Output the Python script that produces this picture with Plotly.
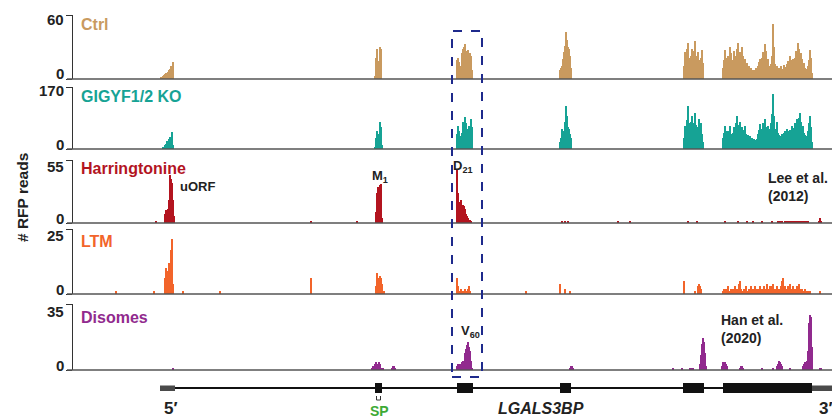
import plotly.graph_objects as go

# page body has an 8px margin; figure is sized/offset to compensate
OFF = 8
W, H = 840 - OFF, 420 - OFF

# ---------------- data (positions along transcript, read counts) ----------------
ctrl_segments = [
    (161, [1, 2, 3, 4, 5, 6, 5, 7, 8, 9, 12, 10, 16]),
    (375, [3, 20, 28, 10, 17, 30, 28]),
    (457, [18, 20, 16, 12, 10, 24, 28, 30, 33, 26, 22, 27, 20, 24, 22, 8]),
    (560, [8, 10, 12, 19, 25, 31, 44, 37, 30, 28, 22, 10]),
    (684, [12, 25, 18, 28, 34, 20, 14, 22, 28, 18, 26, 36, 22, 15, 25, 18, 14, 20, 27, 15]),
    (723, [10, 18, 27, 20, 14, 22, 16, 30, 24, 12, 18, 26, 15, 22, 28, 34, 20, 25, 18, 30,
           22, 14, 19, 12, 15, 9, 12, 7, 10, 6, 8, 5, 8, 10, 7, 12, 16, 19, 14, 20,
           25, 18, 33, 26, 15, 19, 12, 9, 14, 22, 52, 30, 14, 10, 12, 8, 10, 9, 12, 7,
           9, 13, 11, 8, 14, 17, 12, 22, 15, 18, 19, 12, 20, 26, 22, 34, 28, 18, 24, 19,
           12, 15, 10, 7, 9, 12, 18, 27, 20, 6]),
]

gigyf_segments = [
    (163, [4, 6, 10, 15, 22, 18, 28, 32, 20, 46, 12]),
    (375, [5, 30, 50, 20, 40, 74, 60, 10]),
    (457, [40, 64, 50, 35, 27, 45, 73, 60, 87, 70, 55, 48, 64, 50, 82, 60]),
    (560, [18, 30, 55, 46, 50, 73, 119, 91, 60, 55, 40, 30]),
    (684, [30, 64, 45, 80, 119, 70, 50, 75, 91, 60, 72, 100, 65, 45, 60, 82, 55, 70, 40, 20]),
    (723, [30, 45, 64, 40, 50, 35, 48, 64, 42, 30, 45, 60, 40, 70, 91, 65, 50, 73, 55, 60,
           45, 52, 64, 40, 30, 38, 28, 36, 25, 30, 22, 28, 20, 25, 27, 40, 52, 68, 45, 55,
           70, 50, 82, 60, 45, 64, 40, 55, 70, 95, 150, 90, 55, 48, 73, 45, 38, 36, 30, 40,
           35, 45, 50, 42, 55, 48, 40, 52, 45, 64, 50, 58, 70, 60, 82, 70, 85, 100, 75, 55,
           64, 45, 38, 30, 36, 50, 70, 91, 60, 20]),
]

harr_segments = [
    (156, [1]),
    (165, [8, 11, 10, 12, 20, 42, 38, 35, 20, 6]),
    (311, [2]),
    (357, [1]),
    (376, [10, 26, 31, 28, 33, 34, 4]),
    (457, [47, 26, 13, 18, 20, 12, 16, 15, 12, 8, 6, 4, 3, 3, 2]),
    (562, [1, 0, 0, 2, 0, 0, 1]),
    (618, [1]), (630, [1]), (688, [1]), (697, [2]),
    (725, [1, 0, 0, 0, 0, 0, 0, 0, 0, 0, 0, 0, 0, 1, 0, 0, 0, 0, 0, 0,
           0, 0, 1, 0, 0, 0, 0, 0, 1, 0, 0, 0, 0, 0, 0, 0, 0, 1, 0, 0,
           0, 0, 0, 0, 0, 0, 0, 1, 0, 0, 0, 0, 0, 1, 0, 2, 0, 1, 0, 0,
           1, 0, 2, 1, 0, 1, 0, 2, 1, 1, 0, 1, 1, 0, 1, 2, 1, 0, 1, 1,
           0, 1, 0, 1]),
    (819, [2, 4, 1]),
]

ltm_segments = [
    (116, [1]), (154, [1]), (183, [1]), (220, [1]),
    (165, [6, 10, 9, 9, 12, 10, 17, 21, 4]),
    (311, [6]),
    (376, [3, 8, 6, 5, 7, 6, 4, 1, 1]),
    (457, [6, 3, 1, 1, 2, 1, 1, 1, 2, 1, 1, 2, 3, 1]),
    (526, [1]),
    (560, [4, 0, 0, 0, 0, 2, 0, 0, 0, 0, 1]),
    (684, [5, 0, 0, 0, 0, 0, 0, 0, 0, 0, 0, 1, 0, 0, 3, 4, 3, 2]),
    (723, [1, 2, 0, 2, 1, 3, 1, 0, 2, 1, 2, 1, 3, 2, 1, 2, 4, 5, 2, 1,
           0, 2, 1, 3, 0, 1, 2, 1, 3, 2, 1, 2, 3, 1, 2, 2, 1, 3, 2, 1,
           2, 3, 1, 2, 4, 2, 1, 3, 2, 3, 4, 2, 1, 2, 3, 2, 1, 2, 3, 5,
           6, 2, 3, 2, 1, 3, 2, 4, 2, 1, 3, 2, 1, 2, 3, 2, 4, 2, 1, 2,
           1, 0, 2, 1, 0, 1, 0, 1, 0, 0]),
    (820, [1]),
]

disome_segments = [
    (173, [1]),
    (372, [1, 2, 2, 3, 4, 3, 2, 4, 3, 1, 1, 1]),
    (392, [1, 2, 2, 1]),
    (457, [2, 3, 2, 3, 2, 4, 5, 4, 9, 11, 13, 15, 12, 10, 5, 1]),
    (570, [1, 2, 2, 1]),
    (673, [1]), (682, [1]),
    (690, [1, 1, 1, 1]),
    (700, [3, 8, 14, 17, 15, 9, 2]),
    (722, [2, 4, 3, 4, 3, 2]),
    (740, [1, 2, 2, 1]),
    (762, [1]), (773, [1]),
    (777, [2, 3, 5, 4, 3, 2]),
    (790, [1]),
    (803, [2, 3, 4, 3, 5, 10, 25, 29, 28, 12]),
    (820, [1, 1]),
]

track_names = ["Ctrl", "GIGYF1/2 KO", "Harringtonine", "LTM", "Disomes"]
track_maxima = [60, 170, 55, 25, 35]
track_colors = ["#C99A5F", "#16A395", "#B3141F", "#F2642A", "#912A8E"]
label_colors = ["#C99A5F", "#16A395", "#B3141F", "#F2642A", "#912A8E"]
track_segments = [ctrl_segments, gigyf_segments, harr_segments, ltm_segments, disome_segments]

# gene model (transcript coordinates)
exon_starts = [375, 457, 560, 683, 723]
exon_ends = [382, 473, 571, 704, 812]
utr5 = (160, 175)
utr3 = (812, 837)
box_region = (452, 482)

# ---------------- layout geometry (target pixels) ----------------
panel_px = [(15, 79), (87, 149), (160, 223), (229, 294), (304, 370)]
X_LEFT_PX = 66
X_RIGHT_PX = 840


def py(y):
    return 1 - (y - OFF) / H


def px(x):
    return (x - OFF) / W


fig = go.Figure()
axis_names = ["y", "y2", "y3", "y4", "y5"]
for i, segs in enumerate(track_segments):
    xs, ys = [], []
    for start, vals in segs:
        for k, v in enumerate(vals):
            if v > 0:
                xs.append(start + k)
                ys.append(v)
    fig.add_trace(go.Bar(x=xs, y=ys, width=1, marker=dict(color=track_colors[i], line=dict(width=0)),
                         xaxis="x", yaxis=axis_names[i], showlegend=False, hoverinfo="skip"))

layout = dict(
    template="none",
    width=W, height=H, margin=dict(l=0, r=0, t=0, b=0, pad=0, autoexpand=False),
    plot_bgcolor="white", paper_bgcolor="white",
    barmode="overlay", bargap=0, showlegend=False,
    font=dict(family="Liberation Sans, Arial, sans-serif", color="#222"),
    xaxis=dict(domain=[px(X_LEFT_PX), 1], range=[X_LEFT_PX, X_RIGHT_PX], visible=False,
               fixedrange=True, automargin=False),
)
for i, (top, bot) in enumerate(panel_px):
    key = "yaxis" if i == 0 else f"yaxis{i+1}"
    layout[key] = dict(
        domain=[py(bot), py(top)], range=[0, track_maxima[i]],
        anchor="free", position=px(72), automargin=False,
        showline=True, linecolor="#333", linewidth=1.3,
        ticks="outside", ticklen=6, tickcolor="#333", tickwidth=1.3,
        tickvals=[0, track_maxima[i]], showticklabels=False,
        showgrid=False, zeroline=False, fixedrange=True,
    )
fig.update_layout(**layout)

shapes = []
for i, (top, bot) in enumerate(panel_px):
    shapes.append(dict(type="line", xref="x", yref="paper", x0=67, x1=833, y0=py(bot), y1=py(bot),
                       line=dict(color="#555", width=1.6)))

# gene model
shapes.append(dict(type="line", xref="x", yref="paper", x0=utr5[1], x1=utr3[0], y0=py(388), y1=py(388),
                   line=dict(color="#111", width=2)))
shapes.append(dict(type="rect", xref="x", yref="paper", x0=utr5[0], x1=utr5[1], y0=py(391), y1=py(385.5),
                   fillcolor="#4a4a4a", line=dict(width=0)))
shapes.append(dict(type="rect", xref="x", yref="paper", x0=utr3[0], x1=utr3[1], y0=py(391), y1=py(385.5),
                   fillcolor="#4a4a4a", line=dict(width=0)))
for s, e in zip(exon_starts, exon_ends):
    shapes.append(dict(type="rect", xref="x", yref="paper", x0=s, x1=e, y0=py(393), y1=py(383),
                       fillcolor="#111", line=dict(width=0)))
# SP bracket
shapes.append(dict(type="path", xref="paper", yref="paper",
                   path=f"M {px(376.5)},{py(396)} L {px(376.5)},{py(400)} L {px(380.5)},{py(400)} L {px(380.5)},{py(396)}",
                   line=dict(color="#333", width=1)))
# dashed highlight box
shapes.append(dict(type="rect", xref="x", yref="paper", x0=box_region[0], x1=box_region[1],
                   y0=py(377), y1=py(31), line=dict(color="#1E2A8C", width=2, dash="dash"),
                   fillcolor="rgba(0,0,0,0)"))
fig.update_layout(shapes=shapes)

anns = []


def ann(text, x, y, size=13, color="#222", xanchor="left", yanchor="middle", align="left", angle=0):
    anns.append(dict(text=text, x=px(x), y=py(y), xref="paper", yref="paper", showarrow=False,
                     xanchor=xanchor, yanchor=yanchor, align=align, textangle=angle,
                     font=dict(size=size, color=color)))


# y tick labels (placed like the reference: top label just under the tick, zero just above baseline)
top_label_y = [19.5, 90, 166, 235, 311]
zero_label_y = [73, 144, 218, 289, 365]
for i in range(5):
    ann(f"<b>{track_maxima[i]}</b>", 66, top_label_y[i], size=15, xanchor="right")
    ann("<b>0</b>", 66, zero_label_y[i], size=15, xanchor="right")

label_y = [25, 96, 168, 241, 317]
for i, name in enumerate(track_names):
    ann(f"<b>{name}</b>", 79, label_y[i], size=16, color=label_colors[i])

ann("<b># RFP reads</b>", 22, 198, size=15.5, xanchor="center", angle=-90)
ann("<b>uORF</b>", 178, 186, size=13)
ann("<b>M<sub>1</sub></b>", 380, 177, size=13, xanchor="center")
ann("<b>D<sub>21</sub></b>", 463, 166, size=13, xanchor="center")
ann("<b>Lee et al.<br>(2012)</b>", 766, 187, size=14)
ann("<b>V<sub>60</sub></b>", 470, 331, size=13, xanchor="center")
ann("<b>Han et al.<br>(2020)</b>", 719, 329, size=14)
ann("<b>5′</b>", 171, 408, size=17, xanchor="center")
ann("<b>3′</b>", 826, 408, size=17, xanchor="center")
ann("<b>SP</b>", 379, 411, size=14, color="#3DAA35", xanchor="center")
ann("<b><i>LGALS3BP</i></b>", 541, 408, size=16, xanchor="center")
fig.update_layout(annotations=anns)

fig.write_html("out.html")
